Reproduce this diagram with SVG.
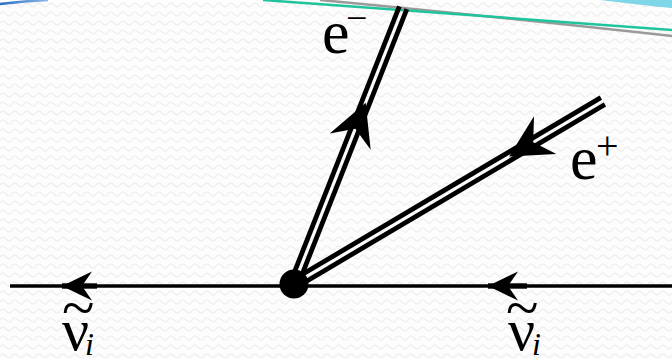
<svg xmlns="http://www.w3.org/2000/svg" width="672" height="358" viewBox="0 0 672 358">
  <defs>
    <pattern id="wave" width="12" height="9" patternUnits="userSpaceOnUse">
      <rect width="12" height="9" fill="#fdfdfd"/>
      <path d="M0,5 Q3,1 6,5 T12,5" fill="none" stroke="#f1f1f1" stroke-width="1.6"/>
    </pattern>
    <linearGradient id="blueGrad" x1="0" y1="0" x2="1" y2="0">
      <stop offset="0" stop-color="#2a6fc4"/>
      <stop offset="1" stop-color="#8cb8e8"/>
    </linearGradient>
    <path id="smallHead" d="M0,0 L-30,-14.5 L-20,0 L-30,14.5 Z"/>
    <path id="bigHead" d="M0,0 L-42,-22 L-28,0 L-42,22 Z"/>
  </defs>
  <style>
    .line { stroke: #000; stroke-width: 3.4; fill: none; }
    .dbl { stroke: #000; stroke-width: 4.8; fill: none; }
    .head { fill: #000; }
    .lbl { font-family: "Liberation Serif", "Times New Roman", "DejaVu Serif", serif; fill: #000; }
  </style>

  <rect width="672" height="358" fill="url(#wave)"/>

  <!-- top decoration -->
  <g id="decoration">
    <path d="M600,0 L672,0 L672,8 Q640,5 600,0 Z" fill="#7fd6e6"/>
    <path d="M320,0 Q480,15 672,36" fill="none" stroke="#9a9a9a" stroke-width="2.5"/>
    <path d="M263,0 Q450,13 672,30" fill="none" stroke="#20c49c" stroke-width="2.5"/>
    <path d="M0,4 Q25,1 48,0" fill="none" stroke="url(#blueGrad)" stroke-width="2.5"/>
  </g>

  <g id="connectors">
    <!-- antineutrino line -->
    <g id="nu-line">
      <line class="line" x1="10" y1="286" x2="672" y2="286"/>
      <g transform="translate(62,286) rotate(180)">
        <use href="#smallHead" class="head"/>
        <rect x="-35" y="-2.7" width="35" height="5.4" fill="#000"/>
      </g>
      <g transform="translate(488,286) rotate(180)">
        <use href="#smallHead" class="head"/>
        <rect x="-39" y="-2.7" width="39" height="5.4" fill="#000"/>
      </g>
    </g>
    <!-- electron line -->
    <g id="em-line" transform="translate(294,284) rotate(-68.45)">
      <line class="dbl" x1="0" y1="-4" x2="297" y2="-4"/>
      <line class="dbl" x1="0" y1="4" x2="297" y2="4"/>
      <use href="#bigHead" class="head" transform="translate(195,0)"/>
    </g>
    <!-- positron line -->
    <g id="ep-line" transform="translate(294,284) rotate(-30.64)">
      <line class="dbl" x1="0" y1="-4" x2="359" y2="-4"/>
      <line class="dbl" x1="0" y1="4" x2="359" y2="4"/>
      <use href="#bigHead" class="head" transform="translate(250,0) rotate(180)"/>
    </g>
  </g>

  <g id="vertex">
    <circle cx="294" cy="284" r="14.5" fill="#000"/>
  </g>

  <g id="label-em">
    <text class="lbl" x="322" y="53" font-size="62">e</text>
    <text class="lbl" x="346" y="31" font-size="38">−</text>
  </g>
  <g id="label-ep">
    <text class="lbl" x="570" y="179" font-size="62">e</text>
    <text class="lbl" x="596" y="159" font-size="40">+</text>
  </g>
  <g id="label-nu-left">
    <text class="lbl" x="62" y="328" font-size="60">~</text>
    <text class="lbl" x="62" y="350" font-size="60">ν</text>
    <text class="lbl" x="85" y="355" font-size="32" font-style="italic">i</text>
  </g>
  <g id="label-nu-right">
    <text class="lbl" x="506" y="328" font-size="60">~</text>
    <text class="lbl" x="508" y="350" font-size="60">ν</text>
    <text class="lbl" x="532" y="355" font-size="32" font-style="italic">i</text>
  </g>
</svg>
